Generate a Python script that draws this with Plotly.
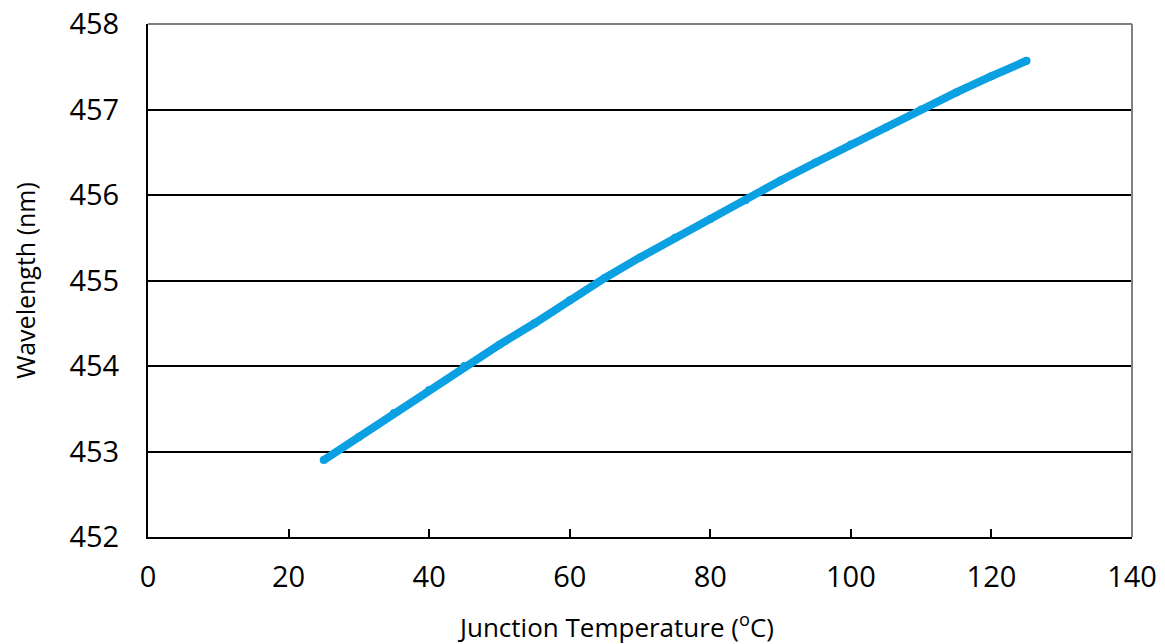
import plotly.graph_objects as go

temperature_c = [25, 30, 35, 40, 45, 50, 55, 60, 65, 70, 75, 80, 85, 90, 95, 100, 105, 110, 115, 120, 125]
wavelength_nm = [452.90, 453.17, 453.45, 453.72, 454.00, 454.25, 454.50, 454.77, 455.03, 455.27,
                 455.50, 455.72, 455.94, 456.17, 456.38, 456.59, 456.79, 457.00, 457.20, 457.39, 457.57]
x_ticks = [0, 20, 40, 60, 80, 100, 120, 140]
y_ticks = [452, 453, 454, 455, 456, 457, 458]
x_title = "Junction Temperature (<sup>o</sup>C)"
y_title = "Wavelength (nm)"

FONT = "Open Sans"
BLUE = "#0AA0E2"

fig = go.Figure()
fig.add_trace(go.Scatter(
    x=temperature_c, y=wavelength_nm, mode="lines+markers",
    line=dict(color=BLUE, width=8), marker=dict(color=BLUE, size=8),
    showlegend=False, hoverinfo="skip",
))

fig.update_layout(
    width=1165, height=644,
    margin=dict(l=148, r=33, t=24, b=107),
    paper_bgcolor="white", plot_bgcolor="white",
    font=dict(family=FONT, color="black"),
    shapes=[
        dict(type="line", xref="paper", yref="paper", x0=0, x1=1, y0=1, y1=1,
             line=dict(color="#808080", width=2)),
        dict(type="line", xref="paper", yref="paper", x0=1, x1=1, y0=0, y1=1,
             line=dict(color="#808080", width=2)),
    ],
    annotations=[
        dict(text=x_title, xref="paper", yref="paper", x=0.4746, y=-0.1735,
             xanchor="center", yanchor="middle", showarrow=False,
             font=dict(size=26, family=FONT, color="black")),
    ],
)
fig.update_xaxes(
    range=[0, 140], tickvals=x_ticks, ticktext=[str(v) for v in x_ticks],
    showgrid=False, zeroline=False, showline=True, linecolor="black", linewidth=2,
    ticks="inside", ticklen=8, tickwidth=1.5, tickcolor="black",
    tickfont=dict(size=29, family=FONT), ticklabelstandoff=13, automargin=False,
)
fig.update_yaxes(
    range=[452, 458], tickvals=y_ticks, ticktext=[str(v) for v in y_ticks],
    showgrid=True, gridcolor="black", gridwidth=1.5, zeroline=False,
    showline=True, linecolor="black", linewidth=2,
    ticks="inside", ticklen=10, tickwidth=1.5, tickcolor="black",
    tickfont=dict(size=29, family=FONT), ticklabelstandoff=21, automargin=False,
    title=dict(text=y_title, font=dict(size=25, family=FONT), standoff=27),
)

fig.write_html(
    "out.html",
    config={"displayModeBar": False},
    post_script="document.documentElement.style.margin='0';document.body.style.margin='0';"
                "document.documentElement.style.overflow='hidden';document.body.style.overflow='hidden';",
)
